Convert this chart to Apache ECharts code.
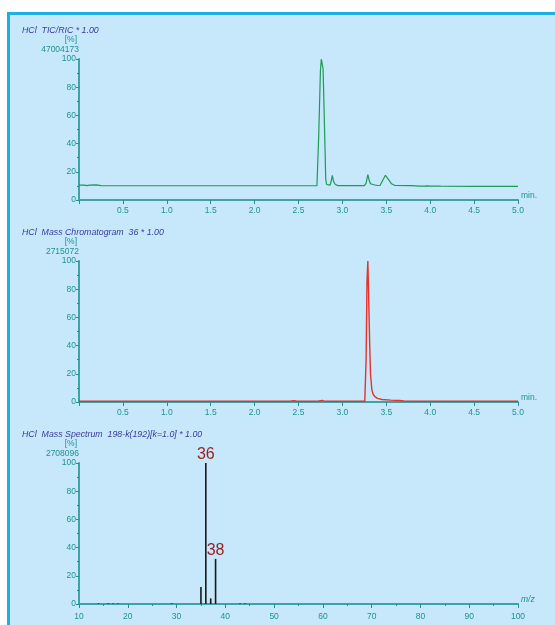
<!DOCTYPE html>
<html><head><meta charset="utf-8">
<style>html,body{margin:0;padding:0;background:#fff}#c{width:555px;height:625px}</style>
<script src="https://cdn.jsdelivr.net/npm/echarts@6/dist/echarts.min.js"></script>
</head><body><div id="c"></div>
<script>
// TIC / RIC chromatogram
var ticTime = [0.00,0.06,0.09,0.12,0.20,0.25,0.30,1.00,2.00,2.71,2.73,2.75,2.76,2.77,2.78,2.795,2.81,2.82,2.835,2.86,2.875,2.885,2.90,2.92,2.95,3.25,3.27,3.29,3.305,3.32,3.36,3.40,3.43,3.46,3.49,3.52,3.56,3.60,3.78,3.80,3.88,3.90,3.93,3.97,4.00,4.08,4.10,4.12,4.50,4.90,4.95,4.97,5.00];
var ticIntensity = [10.6,10.6,10.2,10.6,10.7,10.2,10.1,10.1,10.1,10.1,45,92,100,99.5,93,55,15,11,10.4,10.5,14,17.5,13,11,10.2,10.2,12,18,14,11.5,10.8,10.3,10.4,14,17.5,15,11.5,10.3,10.2,9.8,9.8,10.1,9.9,10.0,9.9,9.9,10.1,9.8,9.7,9.7,9.6,9.3,9.7];
// Mass chromatogram m/z 36
var mcTime = [0.00,2.40,2.45,2.48,2.72,2.77,2.80,3.255,3.27,3.28,3.29,3.30,3.31,3.32,3.335,3.35,3.37,3.40,3.45,3.55,3.65,3.70,3.80,5.00];
var mcIntensity = [0.5,0.5,0.9,0.5,0.5,1.1,0.5,0.5,30,85,100,72,43,20,9,5.5,3.8,2.6,1.8,1.3,1.1,0.7,0.5,0.5];
// Mass spectrum
var msMz = [14,16,17,18,29,35,36,37,38,43,44];
var msIntensity = [0.4,0.4,0.4,0.4,0.4,12,100,4,32,0.4,0.4];
var labeledPeaks = [36,38];
// texts
var titles = ['HCl  TIC/RIC * 1.00','HCl  Mass Chromatogram  36 * 1.00','HCl  Mass Spectrum  198-k(192)[k=1.0] * 1.00'];
var scaleMax = ['47004173','2715072','2708096'];
var xNames = ['min.','min.','m/z'];

var teal = '#1f9392', axisCol = '#3fa3a5', fontF = '"Liberation Sans", Arial, sans-serif';
var gridTops = [59,261,463];
var titleTops = [26,228,430];

function pairs(a,b){return a.map(function(v,i){return [v,b[i]];});}

var grids = [], xAxes = [], yAxes = [], titleArr = [];
for (var i=0;i<3;i++){
  grids.push({left:79,right:37,top:gridTops[i],height:141});
  titleArr.push({text:titles[i],left:22,top:titleTops[i],padding:0,textStyle:{fontSize:8.8,fontStyle:'italic',fontWeight:'normal',color:'#3b3b9e',fontFamily:fontF}});
  var spec = i===2;
  xAxes.push({gridIndex:i,type:'value',min:spec?10:0,max:spec?100:5,interval:spec?10:0.5,
    name:xNames[i],nameLocation:'end',nameGap:3,
    nameTextStyle:{color:teal,fontSize:8.5,fontStyle:spec?'italic':'normal',fontFamily:fontF,verticalAlign:'bottom'},
    axisLine:{show:true,onZero:false,lineStyle:{color:axisCol,width:2}},
    axisTick:{show:true,length:4,lineStyle:{color:teal,width:1}},
    minorTick:{show:spec,splitNumber:2,length:2,lineStyle:{color:teal}},
    splitLine:{show:false},
    axisLabel:{color:teal,fontSize:8.5,fontFamily:fontF,margin:spec?8:6,
      formatter:spec?function(v){return String(v);}:function(v){return v===0?'':v.toFixed(1);}}});
  yAxes.push({gridIndex:i,type:'value',min:0,max:100,interval:20,
    name:'{a|[%]}\n{b|'+scaleMax[i]+'}',nameLocation:'end',nameGap:-2,
    nameTextStyle:{color:teal,fontSize:8.5,fontFamily:fontF,align:'right',verticalAlign:'bottom',lineHeight:10,
      rich:{a:{color:teal,fontSize:8.5,lineHeight:10,fontFamily:fontF,padding:[0,2,0,0]},
            b:{color:teal,fontSize:8.5,lineHeight:10,fontFamily:fontF}}},
    axisLine:{show:true,lineStyle:{color:axisCol,width:2}},
    axisTick:{show:true,length:3,lineStyle:{color:teal}},
    minorTick:{show:true,splitNumber:2,length:2,lineStyle:{color:teal}},
    splitLine:{show:false},
    axisLabel:{color:teal,fontSize:8.5,fontFamily:fontF,margin:3}});
}

var chart = echarts.init(document.getElementById('c'),null,{renderer:'canvas'});
chart.setOption({
  backgroundColor:'#ffffff',
  animation:false,
  graphic:[{type:'rect',z:-100,silent:true,shape:{x:8.5,y:13.5,width:560,height:630},
    style:{fill:'#c6e8fa',stroke:'#1eaee4',lineWidth:3}}],
  title:titleArr,
  grid:grids,xAxis:xAxes,yAxis:yAxes,
  series:[
    {type:'line',xAxisIndex:0,yAxisIndex:0,data:pairs(ticTime,ticIntensity),showSymbol:false,lineStyle:{color:'#1d9a55',width:1.2},z:3},
    {type:'line',xAxisIndex:1,yAxisIndex:1,data:pairs(mcTime,mcIntensity),showSymbol:false,lineStyle:{color:'#e8302c',width:1.4},z:3},
    {type:'bar',xAxisIndex:2,yAxisIndex:2,data:pairs(msMz,msIntensity),barWidth:1.6,itemStyle:{color:'#1a1a1a'},z:3,
      label:{show:true,position:'top',distance:0,color:'#9a1e1e',fontSize:16,fontFamily:fontF,
        formatter:function(p){return labeledPeaks.indexOf(p.value[0])>=0?String(p.value[0]):'';}}}
  ]
});
</script></body></html>
